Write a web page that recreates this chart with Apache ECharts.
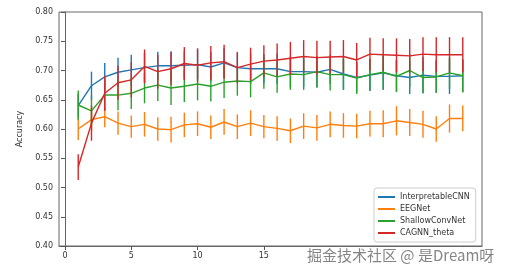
<!DOCTYPE html>
<html>
<head>
<meta charset="UTF-8">
<title>Accuracy</title>
<script src="https://cdn.jsdelivr.net/npm/echarts@6/dist/echarts.min.js"></script>
<style>
  html, body { margin: 0; padding: 0; background: #fff; }
  #chart { width: 514px; height: 275px; }
</style>
</head>
<body>
<div id="chart"></div>
<script>
// epochs 1..30
const epochs = [1,2,3,4,5,6,7,8,9,10,11,12,13,14,15,16,17,18,19,20,21,22,23,24,25,26,27,28,29,30];
const xTicks = [0, 5, 10, 15, 20, 25, 30];

const interpretableCNN = [0.640,0.674,0.689,0.697,0.701,0.705,0.708,0.708,0.709,0.710,0.706,0.713,0.705,0.703,0.703,
                          0.703,0.698,0.698,0.697,0.702,0.694,0.688,0.692,0.696,0.691,0.688,0.692,0.690,0.690,0.691];
const interpretableCNNErr = [0.020,0.024,0.024,0.025,0.026,0.025,0.024,0.025,0.024,0.025,0.025,0.025,0.025,0.026,0.025,
                             0.026,0.026,0.026,0.026,0.025,0.027,0.026,0.027,0.029,0.027,0.028,0.031,0.028,0.030,0.028];

const eegNet = [0.600,0.616,0.621,0.610,0.604,0.608,0.600,0.599,0.607,0.609,0.603,0.612,0.604,0.610,0.604,
                0.601,0.597,0.605,0.602,0.608,0.606,0.605,0.609,0.609,0.614,0.611,0.608,0.600,0.618,0.618];
const eegNetErr = [0.019,0.020,0.018,0.020,0.019,0.021,0.020,0.022,0.021,0.021,0.020,0.022,0.021,0.022,0.020,
                   0.021,0.021,0.022,0.022,0.022,0.021,0.021,0.022,0.023,0.025,0.023,0.023,0.022,0.024,0.022];

const shallowConvNet = [0.641,0.631,0.658,0.658,0.661,0.670,0.675,0.670,0.673,0.677,0.673,0.680,0.682,0.681,0.696,
                        0.689,0.694,0.693,0.698,0.693,0.693,0.687,0.693,0.697,0.690,0.700,0.688,0.689,0.696,0.691];
const shallowConvNetErr = [0.025,0.026,0.026,0.026,0.027,0.026,0.027,0.029,0.027,0.028,0.026,0.027,0.025,0.027,0.027,
                           0.027,0.027,0.026,0.027,0.027,0.026,0.027,0.027,0.030,0.027,0.028,0.027,0.027,0.027,0.028];

const cagnnTheta = [0.535,0.610,0.661,0.679,0.684,0.707,0.698,0.703,0.712,0.709,0.713,0.715,0.705,0.711,0.716,
                    0.718,0.721,0.724,0.722,0.723,0.724,0.718,0.728,0.727,0.726,0.725,0.728,0.727,0.727,0.727];
const cagnnThetaErr = [0.022,0.030,0.030,0.029,0.030,0.029,0.029,0.028,0.028,0.029,0.029,0.029,0.027,0.028,0.027,
                       0.028,0.028,0.028,0.029,0.028,0.028,0.029,0.028,0.028,0.029,0.029,0.029,0.030,0.030,0.030];

const names = ['InterpretableCNN', 'EEGNet', 'ShallowConvNet', 'CAGNN_theta'];
const colors = ['#1f77b4', '#ff7f0e', '#2ca02c', '#d62728'];
const means = [interpretableCNN, eegNet, shallowConvNet, cagnnTheta];
const errs = [interpretableCNNErr, eegNetErr, shallowConvNetErr, cagnnThetaErr];

const chart = echarts.init(document.getElementById('chart'));

const series = [];
names.forEach((name, k) => {
  series.push({
    name: name,
    type: 'line',
    data: epochs.map((e, i) => [e, means[k][i]]),
    showSymbol: false,
    lineStyle: { color: colors[k], width: 1.4 },
    itemStyle: { color: colors[k] },
    z: 2 + k,
    animation: false
  });
  // vertical error bars, no caps
  series.push({
    name: name + '_err',
    type: 'custom',
    data: epochs.map((e, i) => [e, means[k][i] - errs[k][i], means[k][i] + errs[k][i]]),
    renderItem: (params, api) => {
      const lo = api.coord([api.value(0), api.value(1)]);
      const hi = api.coord([api.value(0), api.value(2)]);
      return {
        type: 'line',
        shape: { x1: lo[0], y1: lo[1], x2: hi[0], y2: hi[1] },
        style: { stroke: colors[k], lineWidth: 1.4 }
      };
    },
    z: 2 + k,
    animation: false
  });
});

const axisText = { color: '#333', fontSize: 8, fontFamily: 'DejaVu Sans' };

chart.setOption({
  backgroundColor: '#fff',
  animation: false,
  grid: {
    left: 59, top: 12, right: 32, bottom: 29,
    show: true, borderColor: '#666', borderWidth: 1
  },
  xAxis: {
    type: 'value',
    min: -0.45,
    max: 31.45,
    axisLine: { show: true, lineStyle: { color: '#666' } },
    axisTick: { show: true, length: 4, customValues: xTicks, lineStyle: { color: '#555' } },
    axisLabel: Object.assign({ margin: 6, customValues: xTicks }, axisText),
    splitLine: { show: false }
  },
  yAxis: {
    type: 'value',
    min: 0.4,
    max: 0.8,
    interval: 0.05,
    name: 'Accuracy',
    nameLocation: 'middle',
    nameRotate: 90,
    nameGap: 27,
    nameTextStyle: { color: '#333', fontSize: 8, fontFamily: 'DejaVu Sans' },
    axisLine: { show: true, lineStyle: { color: '#666' } },
    axisTick: { show: true, length: 4, lineStyle: { color: '#555' } },
    axisLabel: Object.assign({ margin: 6, formatter: v => v.toFixed(2) }, axisText),
    splitLine: { show: false }
  },
  legend: {
    data: names.map((n, k) => ({ name: n, icon: 'rect', itemStyle: { color: colors[k] } })),
    orient: 'vertical',
    left: 374,
    top: 188,
    width: 104,
    itemWidth: 17,
    itemHeight: 2,
    itemGap: 4,
    padding: [5, 6, 5, 4],
    borderColor: '#ccc',
    borderWidth: 1,
    borderRadius: 3,
    backgroundColor: '#fff',
    textStyle: { color: '#333', fontSize: 8, fontFamily: 'DejaVu Sans' }
  },
  graphic: [{
    type: 'text',
    left: 305,
    top: 247,
    z: 100,
    style: {
      text: '掘金技术社区 @ 是Dream呀',
      fill: 'rgba(110,110,110,0.85)',
      font: '15px "Noto Sans CJK SC"',
      backgroundColor: '#fff',
      padding: [1, 2]
    }
  }],
  series: series
});
</script>
</body>
</html>
